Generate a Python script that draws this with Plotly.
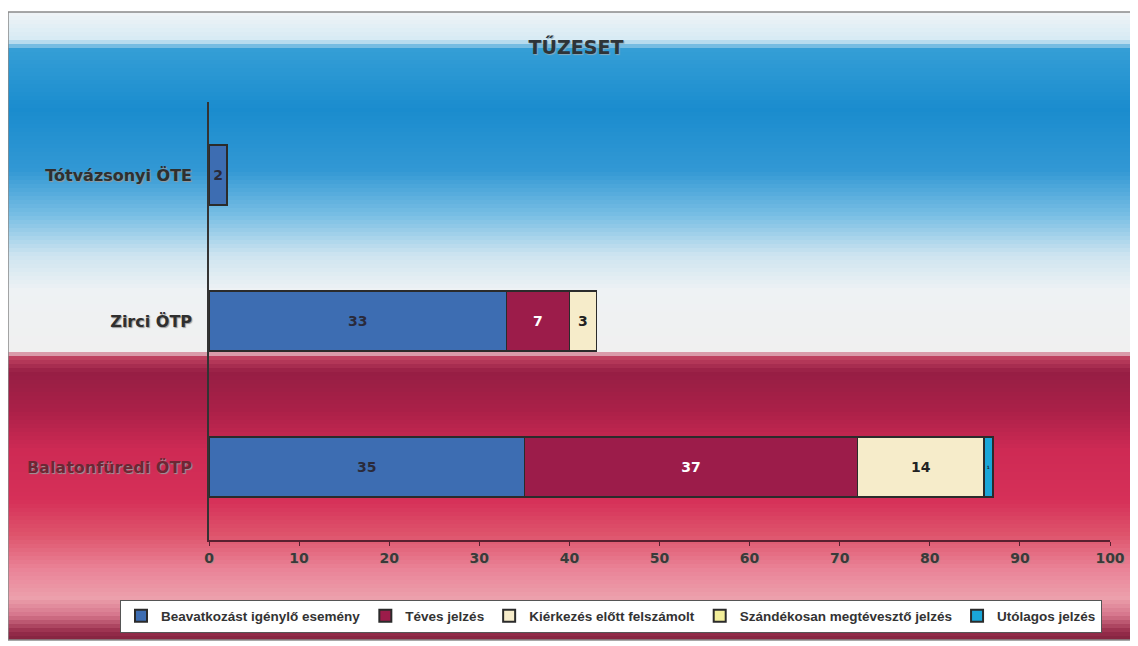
import plotly.graph_objects as go

categories = ["Balatonfüredi ÖTP", "Zirci ÖTP", "Tótvázsonyi ÖTE"]
series_names = [
    "Beavatkozást igénylő esemény",
    "Téves jelzés",
    "Kiérkezés előtt felszámolt",
    "Szándékosan megtévesztő jelzés",
    "Utólagos jelzés",
]
beavatkozast = [35, 33, 2]
teves = [37, 7, 0]
kierkezes = [14, 3, 0]
szandekosan = [0, 0, 0]
utolagos = [1, 0, 0]
x_ticks = [0, 10, 20, 30, 40, 50, 60, 70, 80, 90, 100]

series_values = [beavatkozast, teves, kierkezes, szandekosan, utolagos]
bar_colors = ["#3d6db2", "#9c1c4a", "#f6ecca", "#f2ee9a", "#1aa6d8"]
text_colors = ["#2a2a3a", "#ffffff", "#222222", "#222222", "#222222"]
label_colors = ["#6e2634", "#2f2f2f", "#2f2f2f"]

OFF = 8  # page body margin
W, H = 1138 - OFF, 646 - OFF
# plot area in page coordinates
PL, PR, PT, PB = 209, 1110, 102, 540
ML, MR, MT, MB = PL - OFF, W - (PR - OFF), PT - OFF, H - (PB - OFF)
PH = PB - PT
PW = PR - PL

FONT = "DejaVu Sans"

fig = go.Figure()
for name, vals, col, tcol in zip(series_names, series_values, bar_colors, text_colors):
    fig.add_trace(go.Bar(
        y=categories, x=vals, name=name, orientation="h",
        marker=dict(color=col, line=dict(color="#2b2b2b", width=1.5)),
        text=[str(v) if v > 0 else "" for v in vals],
        textposition="inside", insidetextanchor="middle",
        textfont=dict(family=FONT, size=14, color=tcol, weight="bold"),
        constraintext="inside",
    ))

# background gradient (page y in px from top -> colour)
stops = [
    (12, (240, 244, 246)), (40, (214, 234, 244)),
    (50, (52, 158, 214)), (110, (26, 140, 206)), (170, (50, 152, 212)),
    (215, (120, 190, 228)), (255, (205, 228, 240)), (290, (238, 242, 244)),
    (352, (240, 240, 240)), (356, (196, 70, 100)), (372, (150, 30, 68)),
    (410, (170, 32, 72)), (450, (206, 42, 84)), (500, (214, 48, 88)),
    (535, (222, 84, 108)), (570, (234, 132, 152)), (598, (236, 160, 172)),
    (615, (214, 118, 140)), (632, (150, 44, 74)), (640, (130, 36, 64)),
]

def col_at(y):
    for (y0, c0), (y1, c1) in zip(stops[:-1], stops[1:]):
        if y0 <= y <= y1:
            t = 0 if y1 == y0 else (y - y0) / (y1 - y0)
            return tuple(int(round(a + (b - a) * t)) for a, b in zip(c0, c1))
    return stops[-1][1]

def py(y):
    return 1 - (y - PT) / PH

def px(x):
    return (x - PL) / PW

shapes = []
step = 4
for y in range(12, 640, step):
    c = col_at(y + step / 2)
    shapes.append(dict(type="rect", xref="paper", yref="paper",
                       x0=px(8), x1=px(1136), y0=py(min(y + step + 1.5, 640)), y1=py(y),
                       fillcolor="rgb(%d,%d,%d)" % c, line=dict(width=0), layer="below"))
shapes.append(dict(type="rect", xref="paper", yref="paper",
                   x0=px(8), x1=px(1136), y0=py(640), y1=py(12),
                   fillcolor="rgba(0,0,0,0)", line=dict(color="#8a8a8a", width=1.5), layer="below"))

ticktext = ["<span style='color:%s'>%s</span>" % (c, t) for c, t in zip(label_colors, categories)]

fig.update_layout(
    width=W, height=H,
    margin=dict(l=ML, r=MR, t=MT, b=MB),
    paper_bgcolor="white", plot_bgcolor="rgba(0,0,0,0)",
    barmode="stack", bargap=0.59,
    shapes=shapes,
    title=dict(text="<b>TŰZESET</b>", x=(576 - OFF) / W, xanchor="center",
               y=1 - (47 - OFF) / H, yanchor="middle",
               font=dict(family=FONT, size=19, color="#2e3438",
                         shadow="1px 1px 1px #8ab")),
    xaxis=dict(range=[0, 100], tickvals=x_ticks, ticktext=[str(t) for t in x_ticks],
               showgrid=False, zeroline=False, showline=True, linecolor="#5a2030", linewidth=1.5,
               ticks="outside", ticklen=4, tickcolor="#5a2030",
               tickfont=dict(family=FONT, size=14, color="#3a3a3a", weight="bold",
                             shadow="1px 1px 1px #b88")),
    yaxis=dict(showgrid=False, zeroline=False, showline=True, linecolor="#333333", linewidth=1.5,
               ticks="", ticklabelstandoff=12, tickvals=categories, ticktext=ticktext,
               tickfont=dict(family=FONT, size=16, color="#2f2f2f", weight="bold",
                             shadow="1px 1px 1px #999")),
    legend=dict(orientation="h", x=px(120), xref="paper", xanchor="left",
                y=py(616), yref="paper", yanchor="middle",
                bgcolor="white", bordercolor="#555555", borderwidth=1,
                font=dict(family="Liberation Sans", size=13.5, color="#333333", weight="bold"),
                traceorder="normal", itemwidth=30, itemsizing="constant"),
    showlegend=True,
)

fig.write_html("out.html")
